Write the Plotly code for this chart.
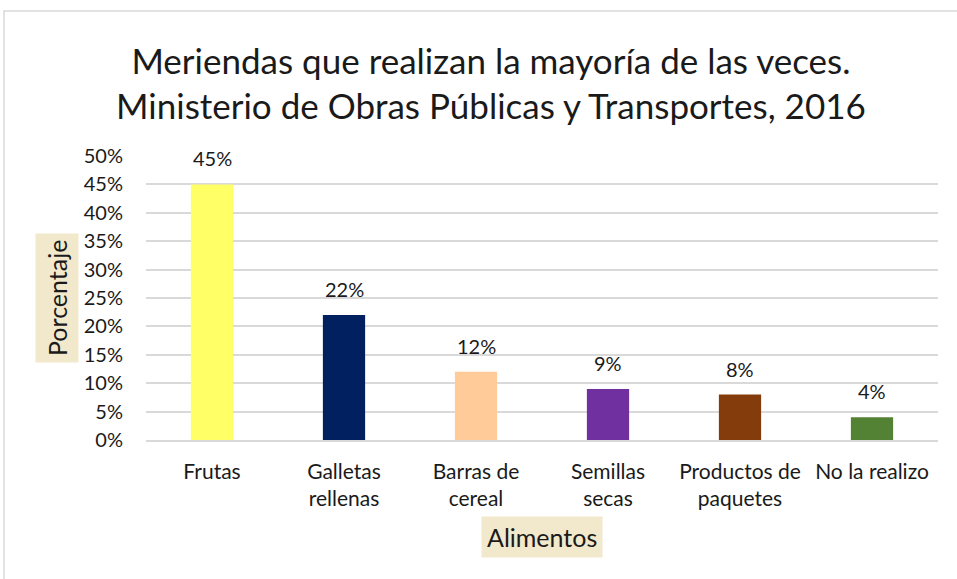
import plotly.graph_objects as go

# datos
categorias = ["Frutas", "Galletas<br>rellenas", "Barras de<br>cereal", "Semillas<br>secas",
              "Productos de<br>paquetes", "No la realizo"]
porcentajes = [0.45, 0.22, 0.12, 0.09, 0.08, 0.04]
colores = ["#FFFF66", "#002060", "#FFCC99", "#7030A0", "#843C0C", "#548235"]

FUENTE = "Lato, 'Open Sans', sans-serif"
TINTA = "#1a1a1a"
FONDO_TITULO = "#F2E8CC"
GRIS = "#D9D9D9"

fig = go.Figure()
fig.add_trace(go.Bar(
    x=categorias, y=porcentajes,
    marker=dict(color=colores, line=dict(width=0)),
    width=0.32,
    hoverinfo="x+y",
))

# etiquetas de datos encima de cada barra
for cat, val in zip(categorias, porcentajes):
    fig.add_annotation(
        x=cat, y=val, text=f"{val:.0%}", showarrow=False,
        yshift=26, font=dict(size=20, color=TINTA),
    )

fig.update_layout(
    width=957, height=579,
    margin=dict(l=146, r=19, t=156, b=139),
    paper_bgcolor="white", plot_bgcolor="white",
    font=dict(family=FUENTE, color=TINTA, size=20),
    title=dict(
        text="Meriendas que realizan la mayoría de las veces.<br>Ministerio de Obras Públicas y Transportes, 2016",
        x=0.513, xanchor="center", y=0.873, yanchor="middle",
        font=dict(size=35, color=TINTA, family=FUENTE),
    ),
    showlegend=False,
)

fig.update_yaxes(
    range=[0, 0.5], dtick=0.05, tickformat=".0%",
    showgrid=True, gridcolor=GRIS, gridwidth=1.5,
    zeroline=False, showline=False, ticks="", ticklabelstandoff=22,
    tickfont=dict(size=20, color=TINTA),
)
fig.update_xaxes(
    showline=True, linecolor=GRIS, linewidth=1.5, ticks="", ticklabelstandoff=12,
    tickfont=dict(size=21, color=TINTA),
)

# titulos de ejes con fondo
fig.add_annotation(
    text="Porcentaje", textangle=-90, xref="paper", yref="paper",
    x=-0.1124, xanchor="center", y=0.5, yanchor="middle", showarrow=False,
    font=dict(size=25, color=TINTA), bgcolor=FONDO_TITULO, borderpad=6,
)
fig.add_annotation(
    text="Alimentos", xref="paper", yref="paper",
    x=0.5, xanchor="center", y=-0.3415, yanchor="middle", showarrow=False,
    font=dict(size=25, color=TINTA), bgcolor=FONDO_TITULO, borderpad=5,
)

# borde del area del grafico
fig.add_shape(
    type="rect", xref="paper", yref="paper",
    x0=-0.1793, x1=1.1, y0=-1.0, y1=1.5106,
    line=dict(color=GRIS, width=1.5), fillcolor="rgba(0,0,0,0)", layer="below",
)

fig.write_html("out.html", config={"displayModeBar": False},
               post_script="document.body.style.margin='0';")
